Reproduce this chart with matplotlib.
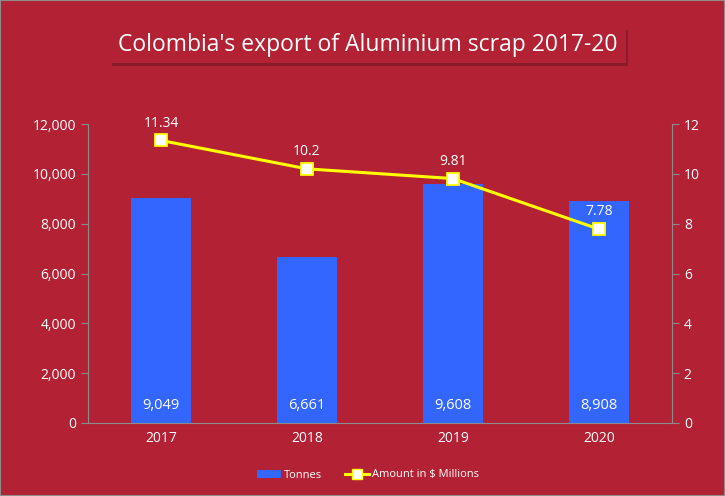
import matplotlib
matplotlib.use("Agg")
import matplotlib.pyplot as plt
from matplotlib.patches import FancyBboxPatch, Rectangle
import numpy as np

plt.rcParams['font.family'] = ['Open Sans', 'DejaVu Sans']

years = ['2017', '2018', '2019', '2020']
tonnes = [9049, 6661, 9608, 8908]
amount = [11.34, 10.2, 9.81, 7.78]
amount_labels = ['11.34', '10.2', '9.81', '7.78']

bg = '#B22234'
bar_col = '#3366FF'
line_col = '#FFFF00'
grey = '#8C8C8C'

fig = plt.figure(figsize=(7.25, 4.96), dpi=100, facecolor=bg)
# thin border around the figure
fig.patches.append(Rectangle((0, 0), 1, 1, transform=fig.transFigure, fill=False,
                             edgecolor=grey, linewidth=1.5))

ax = fig.add_axes([88 / 725, 1 - 423 / 496, 584 / 725, 299 / 496])
ax.set_facecolor(bg)
x = np.arange(len(years))
ax.bar(x, tonnes, width=0.41, color=bar_col, zorder=2)
ax.set_xlim(-0.5, 3.5)
ax.set_ylim(0, 12000)
ax.set_yticks(range(0, 12001, 2000))
ax.set_yticklabels([f'{v:,}' for v in range(0, 12001, 2000)])
ax.set_xticks(x)
ax.set_xticklabels(years)
for s in ['top', 'right']:
    ax.spines[s].set_visible(False)
ax.spines['left'].set_color(grey)
ax.spines['bottom'].set_color(grey)
ax.tick_params(axis='y', colors=grey, labelcolor='white', labelsize=10, length=5, direction='out')
ax.tick_params(axis='x', length=0, labelcolor='white', labelsize=10, pad=6)

for xi, t in zip(x, tonnes):
    ax.text(xi, 420, f'{t:,}', ha='center', va='bottom', color='white', fontsize=10.5, zorder=3)

ax2 = ax.twinx()
ax2.plot(x, amount, color=line_col, linewidth=2.2, marker='s', markersize=8,
         markerfacecolor='white', markeredgecolor=line_col, markeredgewidth=1.3, zorder=4)
ax2.set_ylim(0, 12)
ax2.set_yticks(range(0, 13, 2))
for s in ['top', 'left', 'bottom']:
    ax2.spines[s].set_visible(False)
ax2.spines['right'].set_color(grey)
ax2.tick_params(axis='y', colors=grey, labelcolor='white', labelsize=10, length=5)
for xi, a, lab in zip(x, amount, amount_labels):
    ax2.annotate(lab, (xi, a), xytext=(0, 7), textcoords='offset points',
                 ha='center', va='bottom', color='white', fontsize=10)

# title box with shadow
shadow = Rectangle((112 / 725, 1 - 66 / 496), 516 / 725, 36 / 496, transform=fig.transFigure,
                   facecolor='#6e1520', edgecolor='none', alpha=0.6, zorder=0)
box = Rectangle((110 / 725, 1 - 63 / 496), 516 / 725, 36 / 496, transform=fig.transFigure,
                facecolor=bg, edgecolor='none', zorder=1)
fig.patches.extend([shadow, box])
fig.text(368 / 725, 1 - 45 / 496, "Colombia's export of Aluminium scrap 2017-20",
         ha='center', va='center', color='white', fontsize=16.5)

# legend
from matplotlib.lines import Line2D
from matplotlib.patches import Patch
handles = [Patch(facecolor=bar_col, label='Tonnes'),
           Line2D([0], [0], color=line_col, linewidth=2.2, marker='s', markersize=7,
                  markerfacecolor='white', markeredgecolor=line_col, label='Amount in $ Millions')]
leg = fig.legend(handles=handles, loc='center', bbox_to_anchor=(368 / 725, 1 - 475 / 496),
                 ncol=2, frameon=False, fontsize=8, labelcolor='white',
                 handlelength=2.2, handleheight=0.7, columnspacing=2.0, handletextpad=0.3)

fig.savefig('out.png', dpi=100, facecolor=bg)
